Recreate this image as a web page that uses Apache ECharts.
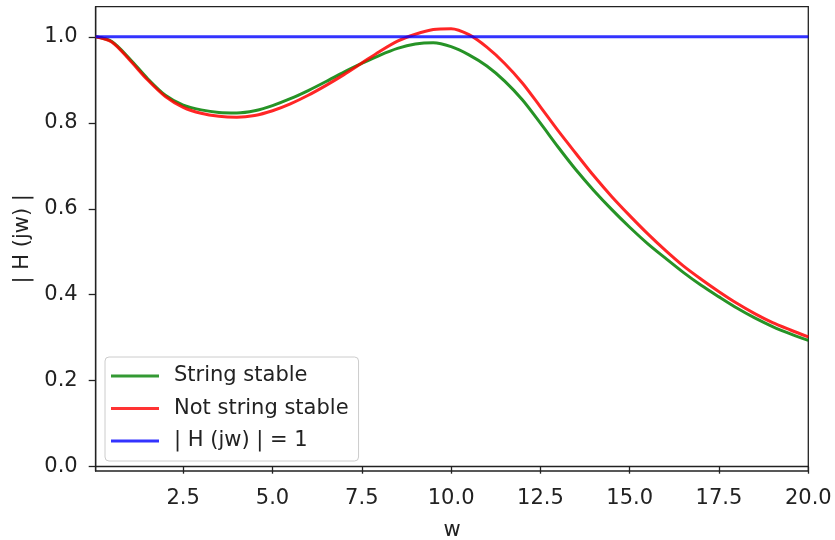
<!DOCTYPE html>
<html>
<head>
<meta charset="utf-8">
<script src="https://cdn.jsdelivr.net/npm/echarts@6/dist/echarts.min.js"></script>
<style>html,body{margin:0;padding:0;background:#fff}#c{width:835px;height:540px}</style>
</head>
<body>
<div id="c"></div>
<script>
const wValues = [0.05,0.5,1,1.5,2,2.5,3,3.5,4,4.5,5,5.5,6,6.5,7,7.5,8,8.5,9,9.5,10,10.5,11,11.5,12,12.5,13,13.5,14,14.5,15,15.5,16,16.5,17,17.5,18,18.5,19,19.5,20];
const stableValues = [1.000,0.989,0.949,0.903,0.864,0.841,0.830,0.824,0.823,0.828,0.840,0.856,0.875,0.896,0.918,0.938,0.957,0.973,0.983,0.986,0.977,0.958,0.932,0.897,0.853,0.799,0.743,0.690,0.642,0.598,0.557,0.519,0.485,0.452,0.422,0.395,0.369,0.346,0.326,0.309,0.294];
const unstableValues = [1.000,0.988,0.946,0.900,0.861,0.836,0.822,0.815,0.813,0.817,0.828,0.844,0.864,0.887,0.912,0.939,0.966,0.990,1.006,1.017,1.019,1.005,0.976,0.938,0.892,0.837,0.781,0.728,0.676,0.628,0.584,0.542,0.503,0.467,0.436,0.407,0.380,0.356,0.335,0.318,0.302];
const unityW = [0.05,20];
const unityValues = [1,1];
const xTicks = [2.5,5,7.5,10,12.5,15,17.5,20];
const yTicks = [0,0.2,0.4,0.6,0.8,1.0];
const seriesNames = ['String stable','Not string stable','| H (jw) | = 1'];

const pair = (xs, ys) => xs.map((x, i) => [x, ys[i]]);
const txt = '#222';
const font = 'DejaVu Sans';
const fs = 21;
const chart = echarts.init(document.getElementById('c'));
chart.setOption({
  animation: false,
  backgroundColor: '#fff',
  grid: {left: 95.7, right: 26.7, top: 6.7, bottom: 69, outerBoundsMode: 'none', containLabel: false, show: true, borderColor: txt, borderWidth: 1.3, backgroundColor: 'transparent'},
  xAxis: {
    type: 'value', min: 0.05, max: 20,
    name: 'w', nameLocation: 'middle', nameGap: 49,
    nameTextStyle: {color: txt, fontSize: fs, fontFamily: font},
    axisLine: {show: true, lineStyle: {color: txt, width: 1.3}},
    axisTick: {show: true, inside: false, length: 7, lineStyle: {color: txt, width: 1.3}, customValues: xTicks},
    axisLabel: {color: txt, fontSize: fs, fontFamily: font, margin: 17, customValues: xTicks, formatter: v => v.toFixed(1)},
    splitLine: {show: false}
  },
  yAxis: {
    type: 'value', min: -0.01, max: 1.07,
    name: '| H (jw) |', nameLocation: 'middle', nameGap: 62, nameRotate: 90,
    nameTextStyle: {color: txt, fontSize: fs, fontFamily: font},
    axisLine: {show: true, lineStyle: {color: txt, width: 1.3}},
    axisTick: {show: true, inside: false, length: 7, lineStyle: {color: txt, width: 1.3}, customValues: yTicks},
    axisLabel: {color: txt, fontSize: fs, fontFamily: font, margin: 18, customValues: yTicks, formatter: v => v.toFixed(1)},
    splitLine: {show: false}
  },
  legend: {
    orient: 'vertical', left: 105, top: 357,
    data: seriesNames,
    icon: 'rect', itemWidth: 48, itemHeight: 3, itemGap: 8.5,
    padding: [7, 10, 8, 6],
    backgroundColor: 'rgba(255,255,255,0.8)', borderColor: '#ccc', borderWidth: 1, borderRadius: 4,
    formatter: n => '{a|' + n + '}',
    textStyle: {color: txt, fontSize: fs, fontFamily: font, lineHeight: 24, rich: {a: {fontSize: fs, fontFamily: font, color: txt, padding: [0, 0, 0, 10], lineHeight: 24}}}
  },
  series: [
    {name: seriesNames[0], type: 'line', data: pair(wValues, stableValues), smooth: 0.3, showSymbol: false, lineStyle: {color: 'rgba(0,128,0,0.85)', width: 3}, itemStyle: {color: 'rgba(0,128,0,0.8)'}},
    {name: seriesNames[1], type: 'line', data: pair(wValues, unstableValues), smooth: 0.3, showSymbol: false, lineStyle: {color: 'rgba(255,0,0,0.85)', width: 3}, itemStyle: {color: 'rgba(255,0,0,0.8)'}},
    {name: seriesNames[2], type: 'line', data: pair(unityW, unityValues), showSymbol: false, lineStyle: {color: 'rgba(0,0,255,0.8)', width: 3}, itemStyle: {color: 'rgba(0,0,255,0.8)'}}
  ]
});
</script>
</body>
</html>
